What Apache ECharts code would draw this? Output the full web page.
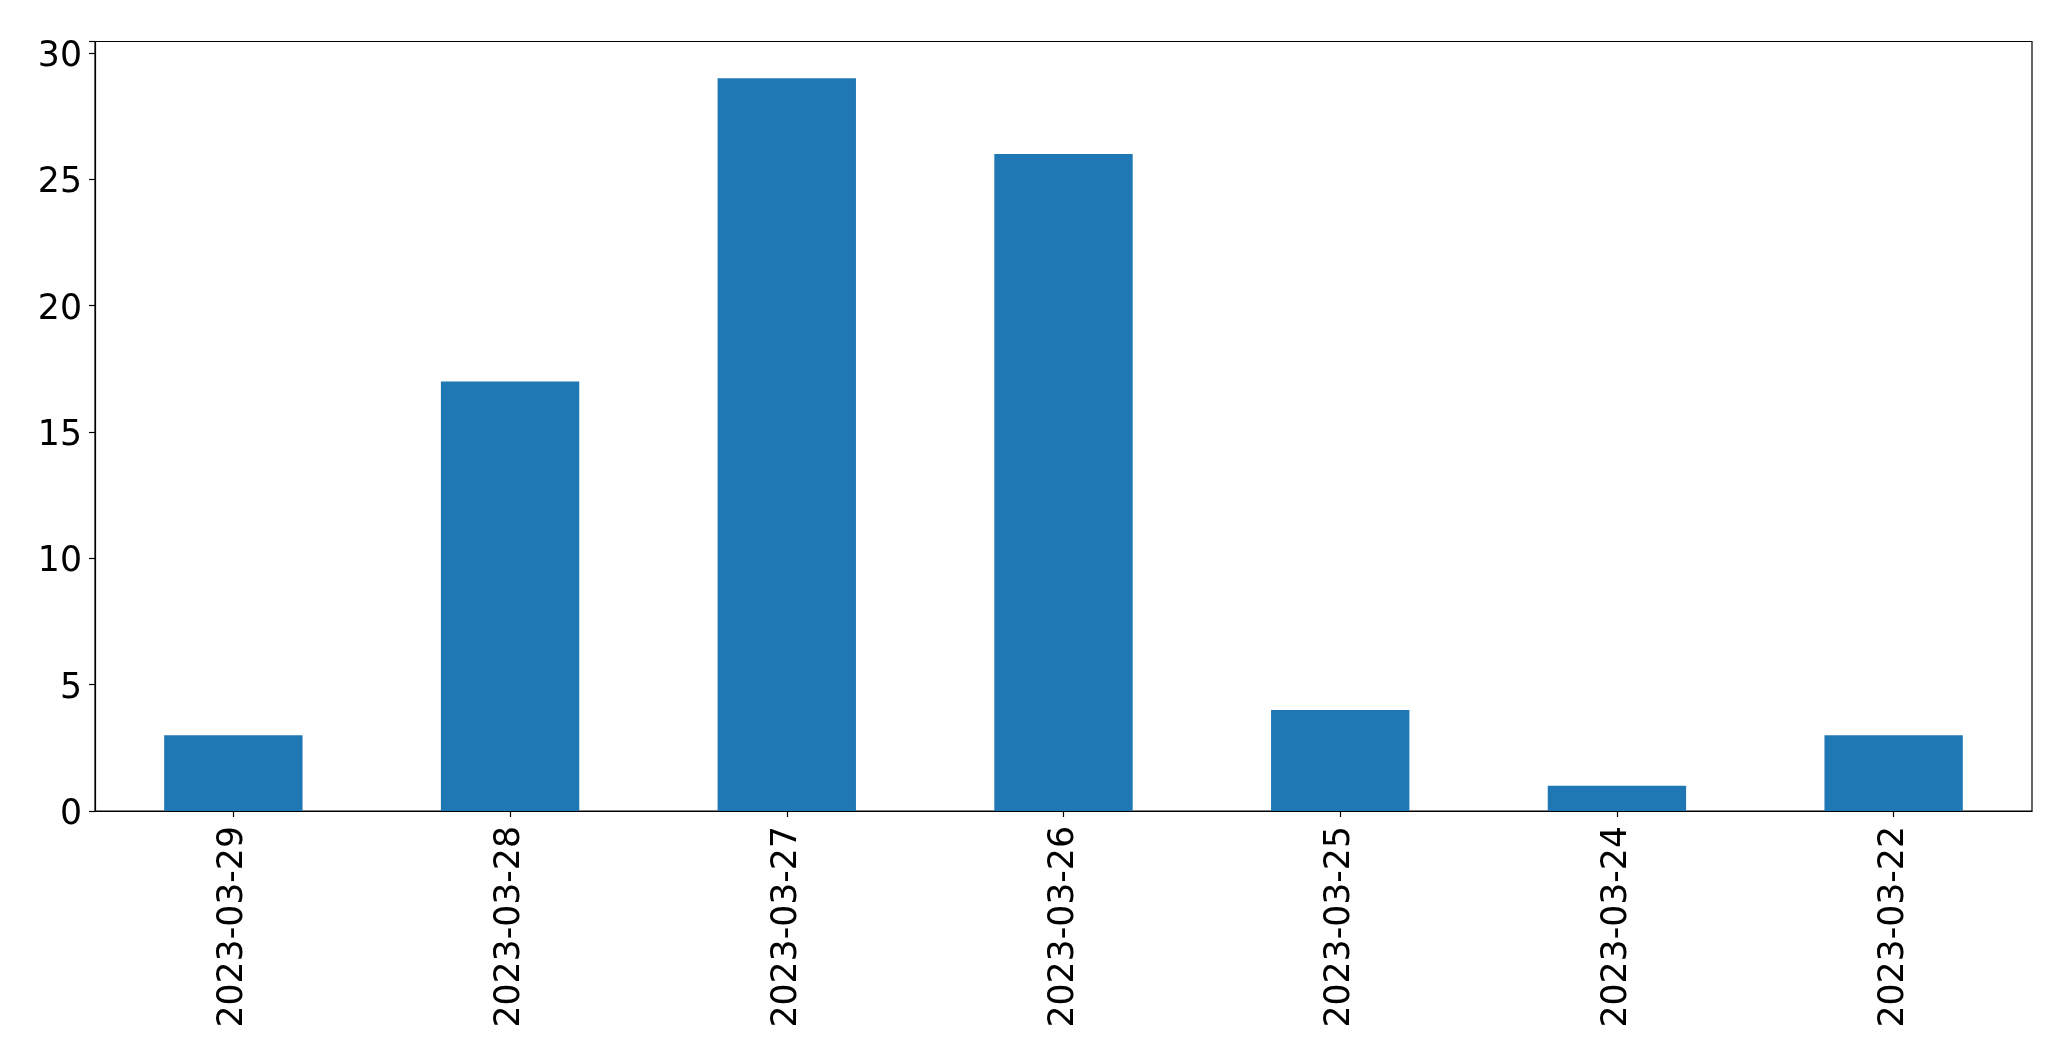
<!DOCTYPE html>
<html>
<head>
<meta charset="utf-8">
<script src="https://cdn.jsdelivr.net/npm/echarts@6/dist/echarts.min.js"></script>
<style>html,body{margin:0;padding:0;background:#fff;}#c{width:2071px;height:1063px;}</style>
</head>
<body>
<div id="c"></div>
<script>
const categories = ["2023-03-29","2023-03-28","2023-03-27","2023-03-26","2023-03-25","2023-03-24","2023-03-22"];
const values = [3, 17, 29, 26, 4, 1, 3];
const yTicks = [0, 5, 10, 15, 20, 25, 30];

const chart = echarts.init(document.getElementById('c'), null, {renderer: 'canvas'});
const font = 'DejaVu Sans';
chart.setOption({
  animation: false,
  backgroundColor: '#ffffff',
  grid: {left: 95, right: 39, top: 41.5, bottom: 252, show: true, borderColor: '#000', borderWidth: 1.2, backgroundColor: 'transparent'},
  xAxis: {
    type: 'category',
    data: categories,
    boundaryGap: true,
    axisLine: {show: true, lineStyle: {color: '#000', width: 1.2}},
    axisTick: {show: true, alignWithLabel: true, length: 6, lineStyle: {color: '#000', width: 1.2}},
    axisLabel: {rotate: 90, margin: 15, color: '#000', fontFamily: font, fontSize: 34.7, interval: 0},
    splitLine: {show: false}
  },
  yAxis: {
    type: 'value',
    min: 0,
    max: 30.45,
    interval: 5,
    axisLine: {show: true, lineStyle: {color: '#000', width: 1.2}},
    axisTick: {show: true, length: 6, lineStyle: {color: '#000', width: 1.2}},
    axisLabel: {margin: 13, color: '#000', fontFamily: font, fontSize: 34.7,
      formatter: function (v) { return yTicks.indexOf(v) >= 0 ? '{a|' + v + '}' : ''; },
      rich: {a: {fontFamily: font, fontSize: 34.7, color: '#000', padding: [8, 0, 0, 0]}}},
    splitLine: {show: false}
  },
  series: [{
    type: 'bar',
    data: values,
    barWidth: '50%',
    itemStyle: {color: '#1f77b4'}
  }]
});
</script>
</body>
</html>
